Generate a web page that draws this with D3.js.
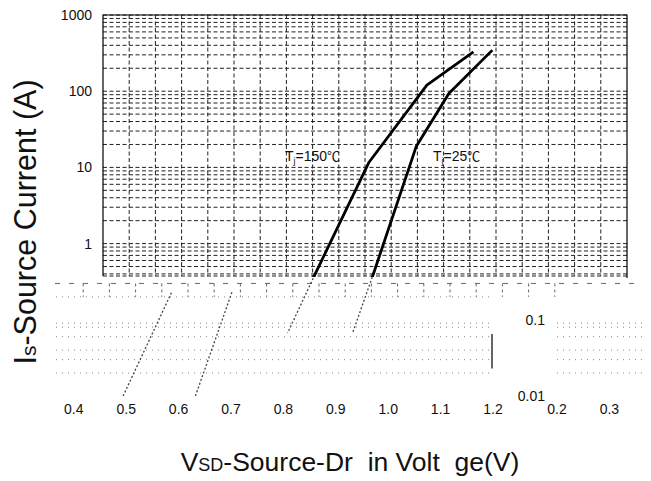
<!DOCTYPE html>
<html>
<head>
<meta charset="utf-8">
<script src="https://cdnjs.cloudflare.com/ajax/libs/d3/7.8.5/d3.min.js"></script>
<style>
  body { margin: 0; background: #fff; }
  text { font-family: "Liberation Sans", Arial, sans-serif; fill: #111; }
</style>
</head>
<body>
<script>
// curve points: [Vsd (V), Is (A)]
const tj150 = [[0.746, 0.01], [0.855, 0.4], [0.957, 11.5], [1.068, 120], [1.157, 329]];
const tj25 = [[0.884, 0.01], [0.966, 0.4], [1.048, 19], [1.110, 93.5], [1.193, 346]];
const xTicks = [0.4, 0.5, 0.6, 0.7, 0.8, 0.9, 1.0, 1.1, 1.2];
const yTicks = [1, 10, 100, 1000];
// the broken lower strip of the original picture
const ghostYTicks = [0.1, 0.01];
const ghostXTicks = [0.2, 0.3];
const ghostRows = [0.2, 0.09, 0.08, 0.06, 0.04, 0.03, 0.02];

const config = {
    width: 651,
    height: 481,
    left: 103,
    right: 627,
    top: 15,
    bottom: 276,
    ghostShift: -135,
    fragShift: 585
};

const x = d3.scaleLinear().domain([0.45, 1.45]).range([config.left, config.right]);
const y = d3.scaleLog().domain([0.01, 1000]).range([396, config.top]);

const svg = d3.select("body").append("svg")
    .attr("width", config.width)
    .attr("height", config.height);

const defs = svg.append("defs");
defs.append("clipPath").attr("id", "plotClip").append("rect")
    .attr("x", config.left).attr("y", config.top)
    .attr("width", config.right - config.left).attr("height", config.bottom + 1 - config.top);
defs.append("clipPath").attr("id", "stubClip").append("rect")
    .attr("x", config.left).attr("y", config.bottom + 1)
    .attr("width", config.right - config.left).attr("height", 56);
defs.append("clipPath").attr("id", "ghostClip").append("rect")
    .attr("x", 52).attr("y", 292).attr("width", 448).attr("height", 104);

const xGrid = d3.range(0.5, 1.41, 0.05);
const yGrid = y.ticks().filter(v => v >= 0.4);

// dashed grid
const grid = svg.append("g")
    .attr("stroke", "#222")
    .attr("stroke-width", 1)
    .attr("stroke-dasharray", "4,2.5");

grid.selectAll("line.v").data(xGrid).enter().append("line")
    .attr("x1", d => x(d)).attr("x2", d => x(d))
    .attr("y1", config.top).attr("y2", config.bottom);

grid.selectAll("line.h").data(yGrid).enter().append("line")
    .attr("x1", config.left).attr("x2", config.right)
    .attr("y1", d => y(d)).attr("y2", d => y(d));

grid.append("line")
    .attr("x1", config.left).attr("x2", config.right)
    .attr("y1", config.bottom).attr("y2", config.bottom);

// frame
svg.append("path")
    .attr("d", `M${config.left},${config.bottom}V${config.top}H${config.right}V${config.bottom + 2}`)
    .attr("fill", "none")
    .attr("stroke", "#000")
    .attr("stroke-width", 1.2);

const line = d3.line().x(d => x(d[0])).y(d => y(d[1]));

svg.append("g").attr("clip-path", "url(#plotClip)")
    .selectAll("path").data([tj150, tj25]).enter().append("path")
    .attr("d", line)
    .attr("fill", "none")
    .attr("stroke", "#000")
    .attr("stroke-width", 2.8)
    .attr("stroke-linejoin", "round");

// broken strip right under the plot
const strip = svg.append("g")
    .attr("stroke", "#666")
    .attr("stroke-width", 1);

strip.append("line")
    .attr("x1", 55).attr("x2", 640)
    .attr("y1", y(0.3)).attr("y2", y(0.3))
    .attr("stroke-dasharray", "5,9");

strip.selectAll("line.stub").data(xGrid).enter().append("line")
    .attr("x1", d => x(d) - 46).attr("x2", d => x(d) - 46)
    .attr("y1", y(0.3)).attr("y2", y(0.2))
    .attr("stroke-dasharray", "3,3");

svg.append("g").attr("clip-path", "url(#stubClip)")
    .selectAll("path").data([tj150, tj25]).enter().append("path")
    .attr("d", line)
    .attr("fill", "none")
    .attr("stroke", "#444")
    .attr("stroke-width", 1.3)
    .attr("stroke-dasharray", "2,2");

// shifted dotted copy of the lower decades
const ghost = svg.append("g").attr("clip-path", "url(#ghostClip)")
    .append("g").attr("transform", `translate(${config.ghostShift},0)`);

ghost.selectAll("line.row").data(ghostRows).enter().append("line")
    .attr("x1", config.left - 140).attr("x2", config.right)
    .attr("y1", d => y(d)).attr("y2", d => y(d))
    .attr("stroke", "#888")
    .attr("stroke-width", 1)
    .attr("stroke-dasharray", "1,5");

ghost.append("line")
    .attr("x1", config.right).attr("x2", config.right)
    .attr("y1", y(0.065)).attr("y2", y(0.023))
    .attr("stroke", "#333")
    .attr("stroke-width", 1.5);

ghost.selectAll("path").data([tj150, tj25]).enter().append("path")
    .attr("d", line)
    .attr("fill", "none")
    .attr("stroke", "#444")
    .attr("stroke-width", 1.3)
    .attr("stroke-dasharray", "2,2");

// right hand fragment
const frag = svg.append("g");
frag.selectAll("line.row").data(ghostRows.slice(1)).enter().append("line")
    .attr("x1", 557).attr("x2", 645)
    .attr("y1", d => y(d)).attr("y2", d => y(d))
    .attr("stroke", "#888")
    .attr("stroke-dasharray", "1,5");

frag.selectAll("text.gy").data(ghostYTicks).enter().append("text")
    .attr("x", 545)
    .attr("y", d => y(d) + 5)
    .attr("text-anchor", "end")
    .style("font-size", "14px")
    .text(d => d);

frag.selectAll("text.gx").data(ghostXTicks).enter().append("text")
    .attr("x", d => x(d) + config.fragShift)
    .attr("y", 414)
    .attr("text-anchor", "middle")
    .style("font-size", "14px")
    .text(d => d.toFixed(1));

// tick labels
svg.selectAll("text.y").data(yTicks).enter().append("text")
    .attr("x", 92)
    .attr("y", d => y(d) + 5)
    .attr("text-anchor", "end")
    .style("font-size", "14px")
    .text(d => d);

svg.selectAll("text.x").data(xTicks).enter().append("text")
    .attr("x", d => x(d) - 3)
    .attr("y", 414)
    .attr("text-anchor", "middle")
    .style("font-size", "14px")
    .text(d => d.toFixed(1));

// curve labels
const tLabel = (px, py, temp) => {
    const t = svg.append("text").attr("x", px).attr("y", py).style("font-size", "14px");
    t.append("tspan").text("T");
    t.append("tspan").attr("dy", 3).style("font-size", "9px").text("j");
    t.append("tspan").attr("dy", -3).text("=" + temp);
    t.append("tspan").style("font-family", "'Noto Sans CJK SC', sans-serif").style("font-size", "13px").text("\u2103");
};
tLabel(285, 161, 150);
tLabel(433, 161, 25);

// axis titles
const yTitle = svg.append("text")
    .attr("transform", "translate(36,222) rotate(-90)")
    .attr("text-anchor", "middle")
    .style("font-size", "30.5px");
yTitle.append("tspan").text("I");
yTitle.append("tspan").style("font-size", "21px").text("s");
yTitle.append("tspan").text("-Source Current (A)");

const xTitle = svg.append("text")
    .attr("x", 350)
    .attr("y", 471)
    .attr("text-anchor", "middle")
    .style("font-size", "26.5px")
    .style("white-space", "pre");
xTitle.append("tspan").text("V");
xTitle.append("tspan").style("font-size", "18px").text("SD");
xTitle.append("tspan").text("-Source-Dr  in Volt  ge(V)");
</script>
</body>
</html>
